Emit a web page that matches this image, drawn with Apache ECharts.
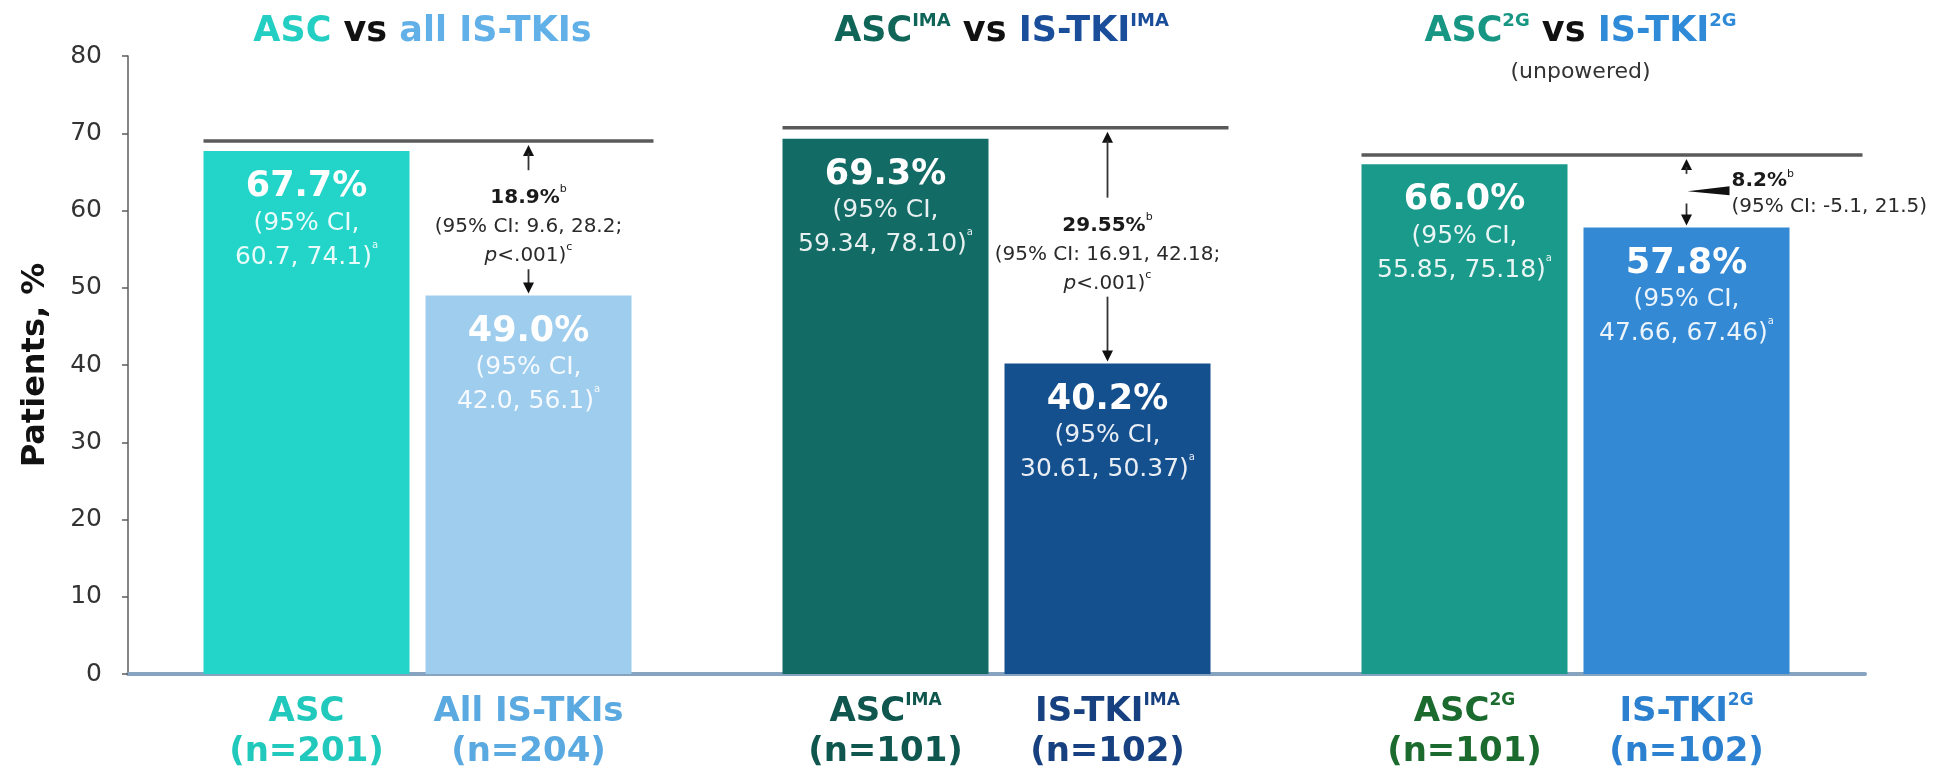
<!DOCTYPE html>
<html>
<head>
<meta charset="utf-8">
<script src="https://cdn.jsdelivr.net/npm/echarts@6/dist/echarts.min.js"></script>
<style>
  html, body { margin: 0; padding: 0; background: #ffffff; }
  #chart { width: 1957px; height: 780px; }
</style>
</head>
<body>
<div id="chart"></div>
<script>
// ---------------- data ----------------
const groups = ['all', 'IMA', '2G'];
const armANames = ['ASC', 'ASC', 'ASC'];
const armASup = ['', 'IMA', '2G'];
const armANs = ['(n=201)', '(n=101)', '(n=101)'];
const armAValues = [67.7, 69.3, 66.0];
const armACI = ['60.7, 74.1', '59.34, 78.10', '55.85, 75.18'];

const armBNames = ['All IS-TKIs', 'IS-TKI', 'IS-TKI'];
const armBSup = ['', 'IMA', '2G'];
const armBNs = ['(n=204)', '(n=102)', '(n=102)'];
const armBValues = [49.0, 40.2, 57.8];
const armBCI = ['42.0, 56.1', '30.61, 50.37', '47.66, 67.46'];

const diffValues = ['18.9%', '29.55%', '8.2%'];
const diffCI = ['95% CI: 9.6, 28.2', '95% CI: 16.91, 42.18', '95% CI: -5.1, 21.5'];
const diffP = ['<.001', '<.001', null];
const refLineValues = [69.0, 70.7, 67.2];

const yTickValues = [0, 10, 20, 30, 40, 50, 60, 70, 80];

// --------------- styles ----------------
const FONT = 'DejaVu Sans';
const BAR_W = 206, BAR_GAP = 16;
const armAColors = ['#22d5c8', '#136b66', '#1a9a8b'];
const armBColors = ['#9fcdee', '#144f8e', '#3389d4'];
const armALabelColors = ['#20c9bb', '#0e564e', '#1b6a2e'];
const armBLabelColors = ['#5aa9e0', '#16407f', '#2b80cf'];
const titleAColors = ['#22cfc2', '#0f6558', '#179684'];
const titleBColors = ['#62b0e8', '#1b4e9a', '#2f8ad8'];
const lineExtend = [22, 18, 73];
const annLayout = ['center', 'center', 'side'];

const chart = echarts.init(document.getElementById('chart'), null, { renderer: 'canvas' });

function barLabelFormatter(ci) {
  return function (p) {
    return '{v|' + p.value.toFixed(1) + '%}\n{ci|(95% CI,}\n{ci|' + ci[p.dataIndex] + ')}{sup|a}';
  };
}
const barLabelRich = {
  v: { fontFamily: FONT, fontWeight: 'bold', fontSize: 35, color: '#ffffff', lineHeight: 38 },
  ci: { fontFamily: FONT, fontSize: 25, color: 'rgba(255,255,255,0.9)', lineHeight: 34 },
  sup: { fontFamily: FONT, fontSize: 10, color: 'rgba(255,255,255,0.9)', lineHeight: 24, verticalAlign: 'top' }
};

function bottomLabelItems(names, sups, ns, colors) {
  return names.map(function (name, i) {
    return {
      value: 0,
      label: {
        formatter: '{t|' + name + '}' + (sups[i] ? '{s|' + sups[i] + '}' : '') + '\n{n|' + ns[i] + '}',
        rich: {
          t: { fontFamily: FONT, fontWeight: 'bold', fontSize: 34, color: colors[i], lineHeight: 40 },
          s: { fontFamily: FONT, fontWeight: 'bold', fontSize: 17, color: colors[i], lineHeight: 26, verticalAlign: 'top' },
          n: { fontFamily: FONT, fontWeight: 'bold', fontSize: 34, color: colors[i], lineHeight: 40 }
        }
      }
    };
  });
}

function arrowHead(x, yTip, dir) {
  // dir = +1 : head points up (tip at top); -1 : head points down
  return {
    type: 'polygon',
    shape: { points: [[x, yTip], [x - 5.5, yTip + dir * 11], [x + 5.5, yTip + dir * 11]] },
    style: { fill: '#111' }
  };
}

function renderAnnotation(params, api) {
  const i = api.value(0);
  const cx = api.coord([i, 0])[0];
  const yRef = api.coord([i, api.value(1)])[1];
  const yB = api.coord([i, api.value(2)])[1];
  const x0 = cx - BAR_GAP / 2 - BAR_W;
  const x1 = cx + BAR_GAP / 2 + BAR_W + lineExtend[i];
  const xB = cx + BAR_GAP / 2 + BAR_W / 2;
  const yMid = (yRef + yB) / 2;
  const children = [
    { type: 'line', shape: { x1: x0, y1: yRef, x2: x1, y2: yRef }, style: { stroke: '#5a5a5a', lineWidth: 3.5 } }
  ];
  const rich = {
    b: { fontFamily: FONT, fontWeight: 'bold', fontSize: 20, fill: '#1a1a1a', lineHeight: 29 },
    s: { fontFamily: FONT, fontSize: 11, fill: '#1a1a1a', lineHeight: 16, verticalAlign: 'top' },
    r: { fontFamily: FONT, fontSize: 20, fill: '#2a2a2a', lineHeight: 29 },
    i: { fontFamily: FONT, fontStyle: 'italic', fontSize: 20, fill: '#2a2a2a', lineHeight: 29 }
  };
  const shaft = { stroke: '#333', lineWidth: 1.8 };
  if (annLayout[i] === 'center') {
    let txt = '{b|' + diffValues[i] + '}{s|b}\n{r|(' + diffCI[i] + (diffP[i] ? ';' : ')') + '}';
    if (diffP[i]) txt += '\n{i|p}{r|' + diffP[i] + ')}{s|c}';
    const yT = yMid + 9;
    children.push(arrowHead(xB, yRef + 4, 1));
    children.push({ type: 'line', shape: { x1: xB, y1: yRef + 12, x2: xB, y2: yT - 57 }, style: shaft });
    children.push({ type: 'line', shape: { x1: xB, y1: yT + 42, x2: xB, y2: yB - 10 }, style: shaft });
    children.push(arrowHead(xB, yB - 2, -1));
    children.push({ type: 'text', style: { text: txt, rich: rich, x: xB, y: yT, align: 'center', verticalAlign: 'middle' } });
  } else {
    const rich2 = {
      b: { fontFamily: FONT, fontWeight: 'bold', fontSize: 20, fill: '#1a1a1a', lineHeight: 26 },
      s: { fontFamily: FONT, fontSize: 11, fill: '#1a1a1a', lineHeight: 14, verticalAlign: 'top' },
      r: { fontFamily: FONT, fontSize: 20, fill: '#2a2a2a', lineHeight: 26 }
    };
    const txt = '{b|' + diffValues[i] + '}{s|b}\n{r|(' + diffCI[i] + ')}';
    children.push(arrowHead(xB, yRef + 4, 1));
    children.push({ type: 'line', shape: { x1: xB, y1: yRef + 12, x2: xB, y2: yRef + 19 }, style: shaft });
    children.push({ type: 'line', shape: { x1: xB, y1: yB - 24, x2: xB, y2: yB - 10 }, style: shaft });
    children.push(arrowHead(xB, yB - 2, -1));
    children.push({ type: 'polygon', shape: { points: [[xB + 1, yMid], [xB + 43, yMid - 5], [xB + 43, yMid + 4]] }, style: { fill: '#111' } });
    children.push({ type: 'text', style: { text: txt, rich: rich2, x: xB + 45, y: yMid + 3, align: 'left', verticalAlign: 'middle' } });
  }
  return { type: 'group', children: children };
}

const barGapPct = (BAR_GAP / BAR_W * 100) + '%';
const option = {
  animation: false,
  backgroundColor: '#ffffff',
  grid: { left: 128, right: 92, top: 56, bottom: 106 },
  xAxis: {
    type: 'category',
    data: groups,
    axisLine: { lineStyle: { color: '#86a3bf', width: 4 } },
    axisTick: { show: false },
    axisLabel: { show: false }
  },
  yAxis: {
    type: 'value',
    min: yTickValues[0],
    max: yTickValues[yTickValues.length - 1],
    interval: 10,
    name: 'Patients, %',
    nameLocation: 'middle',
    nameGap: 76,
    nameRotate: 90,
    nameTextStyle: { fontFamily: FONT, fontWeight: 'bold', fontSize: 32, color: '#111' },
    axisLine: { show: true, lineStyle: { color: '#5c5c5c', width: 1.5 } },
    axisTick: { show: true, length: 6, lineStyle: { color: '#5c5c5c', width: 1.5 } },
    axisLabel: { fontFamily: FONT, fontSize: 25, color: '#333', margin: 26 },
    splitLine: { show: false }
  },
  series: [
    {
      name: 'labelsA', type: 'bar', stack: 'A', barWidth: BAR_W, barGap: barGapPct,
      itemStyle: { color: 'rgba(0,0,0,0)' },
      label: { show: true, position: 'bottom', distance: 18 },
      data: bottomLabelItems(armANames, armASup, armANs, armALabelColors),
      silent: true
    },
    {
      name: 'ASC arm', type: 'bar', stack: 'A', barWidth: BAR_W, barGap: barGapPct,
      data: armAValues.map(function (v, i) { return { value: v, itemStyle: { color: armAColors[i] } }; }),
      label: { show: true, position: 'insideTop', distance: 17, formatter: barLabelFormatter(armACI), rich: barLabelRich }
    },
    {
      name: 'labelsB', type: 'bar', stack: 'B', barWidth: BAR_W, barGap: barGapPct,
      itemStyle: { color: 'rgba(0,0,0,0)' },
      label: { show: true, position: 'bottom', distance: 18 },
      data: bottomLabelItems(armBNames, armBSup, armBNs, armBLabelColors),
      silent: true
    },
    {
      name: 'IS-TKI arm', type: 'bar', stack: 'B', barWidth: BAR_W, barGap: barGapPct,
      data: armBValues.map(function (v, i) { return { value: v, itemStyle: { color: armBColors[i] } }; }),
      label: { show: true, position: 'insideTop', distance: 17, formatter: barLabelFormatter(armBCI), rich: barLabelRich }
    },
    {
      name: 'annotations', type: 'custom',
      renderItem: renderAnnotation,
      encode: { x: 0, y: 1 },
      data: groups.map(function (g, i) { return [i, refLineValues[i], armBValues[i]]; }),
      z: 5
    }
  ]
};
chart.setOption(option);

// titles centred over each comparison using the axis scale
const titleTexts = [
  '{a|ASC} {k|vs} {b|all IS-TKIs}',
  '{a|ASC}{as|IMA} {k|vs} {b|IS-TKI}{bs|IMA}',
  '{a|ASC}{as|2G} {k|vs} {b|IS-TKI}{bs|2G}'
];
const titleSub = ['', '', '(unpowered)'];
chart.setOption({
  title: groups.map(function (g, i) {
    const px = chart.convertToPixel({ xAxisIndex: 0 }, i);
    return {
      text: titleTexts[i],
      subtext: titleSub[i],
      left: px,
      textAlign: 'center',
      top: 7,
      itemGap: 12,
      textStyle: {
        fontFamily: FONT, fontWeight: 'bold', fontSize: 35,
        rich: {
          a: { fontFamily: FONT, fontWeight: 'bold', fontSize: 35, color: titleAColors[i], lineHeight: 40 },
          b: { fontFamily: FONT, fontWeight: 'bold', fontSize: 35, color: titleBColors[i], lineHeight: 40 },
          k: { fontFamily: FONT, fontWeight: 'bold', fontSize: 35, color: '#111', lineHeight: 40 },
          as: { fontFamily: FONT, fontWeight: 'bold', fontSize: 18, color: titleAColors[i], lineHeight: 24, verticalAlign: 'top' },
          bs: { fontFamily: FONT, fontWeight: 'bold', fontSize: 18, color: titleBColors[i], lineHeight: 24, verticalAlign: 'top' }
        }
      },
      subtextStyle: { fontFamily: FONT, fontSize: 22, color: '#333' }
    };
  })
});
</script>
</body>
</html>
